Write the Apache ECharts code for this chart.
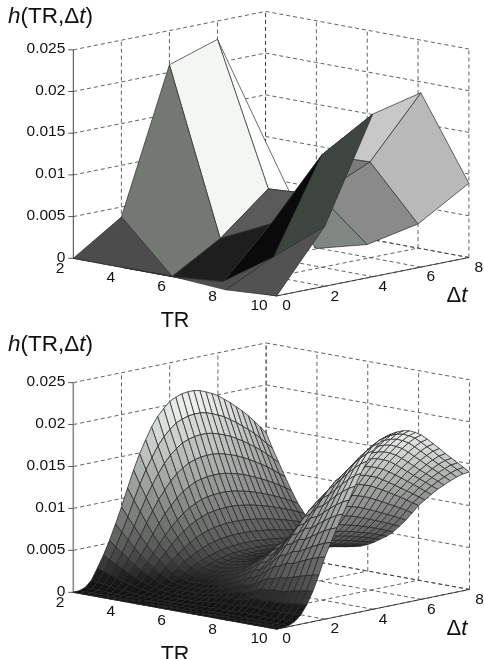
<!DOCTYPE html>
<html><head><meta charset="utf-8">
<style>html,body{margin:0;padding:0;background:#fff}#c{width:484px;height:659px}</style>
<script src="https://cdn.jsdelivr.net/npm/echarts@6/dist/echarts.min.js"></script>
</head><body><div id="c"></div>
<script>
// ---------- tick labels ----------
const trTicks = [2, 4, 6, 8, 10];
const dtTicks = [0, 2, 4, 6, 8];
const hTicks = [0, 0.005, 0.01, 0.015, 0.02, 0.025];
const hTickLabels = ['0', '0.005', '0.01', '0.015', '0.02', '0.025'];

// ---------- upper surface: h at TR = 2,4,6,8,10 (rows) and dt = 0,2,4,6,8 (columns) ----------
const coarseH = [
  [0, 0.0038, 0.0209, 0.0228, 0.0094],
  [0, -0.0022, 0.0012, 0.0060, -0.0023],
  [0, -0.0017, 0.0041, 0.0064, -0.0007],
  [-0.0004, 0.0024, 0.0135, 0.0115, 0.0029],
  [0, 0.0072, 0.0195, 0.0209, 0.0089]
];
// grey level of every flat facet (style, same layout as the cells of coarseH)
const coarseFaceColors = [
  ['#4c4c4c', '#737872', '#f2f7f2', '#ffffff'],
  ['#4a4a4a', '#1e1e1e', '#5a5a5a', '#808680'],
  ['#505050', '#0a0a0a', '#777d77', '#8a8a8a'],
  ['#525252', '#3e443e', '#c8c8c8', '#b9b9b9']
];

// ---------- lower surface: h x 1e5, TR = 2..10 step .25 (rows), dt = 0..8 step .25 (columns) ----------
const fineTR = [2,2.25,2.5,2.75,3,3.25,3.5,3.75,4,4.25,4.5,4.75,5,5.25,5.5,5.75,6,6.25,6.5,6.75,7,7.25,7.5,7.75,8,8.25,8.5,8.75,9,9.25,9.5,9.75,10];
const fineDt = [0,.25,.5,.75,1,1.25,1.5,1.75,2,2.25,2.5,2.75,3,3.25,3.5,3.75,4,4.25,4.5,4.75,5,5.25,5.5,5.75,6,6.25,6.5,6.75,7,7.25,7.5,7.75,8];
const fineH = [
[0,5,30,100,230,370,530,710,900,1110,1310,1490,1640,1780,1890,1970,2040,2075,2100,2110,2110,2095,2065,2030,1990,1935,1880,1815,1750,1680,1600,1515,1430],
[0,4,26,88,202,326,466,625,792,977,1153,1311,1443,1566,1663,1734,1795,1826,1848,1857,1857,1844,1817,1786,1751,1703,1654,1597,1540,1478,1408,1333,1258],
[0,4,23,77,177,285,408,547,693,855,1009,1147,1263,1371,1455,1517,1571,1598,1617,1625,1625,1613,1590,1563,1532,1490,1448,1398,1348,1294,1232,1167,1101],
[0,3,20,66,152,244,350,469,594,733,865,983,1082,1175,1247,1300,1346,1370,1386,1393,1393,1383,1363,1340,1313,1277,1241,1198,1155,1109,1056,1000,944],
[0,3,17,56,128,205,294,394,500,616,727,827,910,988,1049,1093,1132,1152,1166,1171,1171,1163,1146,1127,1104,1074,1043,1007,971,932,888,841,794],
[0,2,14,46,106,170,244,327,414,511,603,685,754,819,869,906,938,955,966,971,971,964,950,934,915,890,865,835,805,773,736,697,658],
[0,2,12,39,89,142,204,273,347,427,504,574,631,685,728,758,785,799,809,812,812,807,795,782,766,745,724,699,674,647,616,583,551],
[0,2,9,31,71,115,164,220,279,344,406,462,508,552,586,611,632,643,651,654,654,649,640,629,617,600,583,563,543,521,496,470,443],
[0,1,8,25,58,93,133,178,225,278,328,373,410,445,473,493,510,519,525,528,528,524,516,508,498,484,470,454,438,420,400,379,358],
[0,1,6,21,47,76,109,146,185,228,269,305,336,365,387,404,418,425,431,433,433,429,423,416,408,397,385,372,359,344,328,311,293],
[0,1,5,18,41,67,95,128,162,200,236,268,295,320,340,355,367,374,378,380,380,377,372,365,358,348,338,327,315,302,288,273,257],
[0,1,5,17,39,63,90,121,153,189,223,253,279,303,321,335,347,353,357,359,359,356,351,345,338,329,320,309,298,286,272,258,243],
[0,1,5,17,39,63,90,121,153,189,223,253,279,303,321,335,347,353,357,359,359,356,351,345,338,329,320,309,298,286,272,258,243],
[0,1,5,18,40,65,93,124,158,194,229,261,287,312,331,345,357,363,368,369,369,367,361,355,348,339,329,318,306,294,280,265,250],
[0,1,6,19,43,68,98,131,167,205,242,276,303,329,350,364,377,384,389,390,390,388,382,376,368,358,348,336,324,311,296,280,265],
[0,1,6,20,46,74,106,142,180,222,262,298,328,356,378,394,408,415,420,422,422,419,413,406,398,387,376,363,350,336,320,303,286],
[0,1,7,22,51,81,117,156,198,244,288,328,361,392,416,433,449,457,462,464,464,461,454,447,438,426,414,399,385,370,352,333,315],
[0,1,8,25,58,93,133,178,225,278,328,373,410,445,473,493,510,519,525,528,528,524,516,508,498,484,470,454,438,420,400,379,358],
[0,1,9,29,66,105,151,202,257,316,373,425,467,507,539,561,581,591,599,601,601,597,589,579,567,551,536,517,499,479,456,432,408],
[0,2,10,32,74,118,170,227,288,355,419,477,525,570,605,630,653,664,672,675,675,670,661,650,637,619,602,581,560,538,512,485,458],
[0,2,11,36,84,135,193,259,329,405,478,544,599,650,690,719,745,757,767,770,770,765,754,741,726,706,686,662,639,613,584,553,522],
[0,2,9,31,72,124,189,266,349,428,505,575,639,701,754,799,837,861,878,886,888,885,875,861,843,817,790,761,731,701,669,636,604],
[0,2,10,35,83,142,216,304,399,489,577,657,730,801,862,913,957,984,1004,1012,1015,1011,1000,984,963,934,903,870,836,802,765,727,690],
[0,2,12,40,95,163,248,349,458,560,661,753,837,918,988,1047,1097,1128,1150,1160,1163,1159,1146,1127,1103,1070,1035,997,958,919,877,833,790],
[0,2,13,45,107,184,279,393,516,632,745,849,943,1035,1114,1180,1236,1272,1296,1308,1311,1306,1292,1270,1244,1206,1166,1123,1079,1035,988,939,891],
[0,2,11,41,96,175,277,402,539,657,775,883,986,1085,1179,1262,1330,1376,1409,1424,1429,1428,1413,1389,1359,1316,1270,1222,1172,1123,1074,1023,972],
[0,2,12,44,104,189,300,434,583,710,838,955,1067,1173,1275,1365,1439,1488,1524,1540,1545,1545,1529,1502,1469,1423,1373,1322,1268,1214,1161,1106,1051],
[0,2,9,36,88,173,289,434,595,724,853,973,1094,1214,1327,1431,1519,1580,1624,1644,1653,1653,1640,1612,1576,1524,1467,1411,1351,1295,1239,1182,1126],
[0,2,10,38,93,183,306,460,629,766,902,1029,1157,1285,1403,1514,1607,1671,1718,1739,1748,1748,1735,1705,1667,1612,1552,1492,1429,1370,1310,1250,1190],
[0,2,10,40,98,193,323,485,664,807,951,1085,1220,1355,1480,1596,1695,1763,1811,1834,1844,1844,1830,1798,1758,1700,1636,1574,1507,1444,1382,1318,1255],
[0,2,11,42,103,202,338,507,694,844,995,1135,1276,1417,1548,1670,1773,1844,1895,1918,1928,1928,1914,1881,1839,1778,1712,1646,1576,1511,1445,1379,1313],
[0,2,11,43,107,210,351,526,721,877,1033,1178,1325,1471,1607,1734,1841,1915,1967,1992,2002,2002,1987,1953,1910,1847,1778,1710,1637,1569,1501,1432,1364],
[0,2,12,45,110,215,360,540,740,900,1060,1210,1360,1510,1650,1780,1890,1965,2020,2045,2055,2055,2040,2005,1960,1895,1825,1755,1680,1610,1540,1470,1400]
];
const fineScale = 1e-5;

// ---------- view of each panel: oblique projection from (TR, dt, h) to the page scale ----------
const upperView = {ox: 73.3, oy: 258.3, trX: 25.42, trY: 4.7, dtX: 24.03, dtY: 4.8, hY: 8340,
  axisColor: '#444', axisWidth: 1, titleY: 17};
const lowerView = {ox: 73.3, oy: 592.3, trX: 25.42, trY: 4.6, dtX: 24.1, dtY: 4.96, hY: 8387,
  axisColor: '#8a8a8a', axisWidth: 1.6, titleY: 345};
function project(v, tr, dt, h) {
  return [v.ox + (tr - 2) * v.trX + dt * v.dtX, v.oy + (tr - 2) * v.trY - dt * v.dtY - h * v.hY];
}

// colour ramp of the smooth surface
const rampStops = [[0, [16,16,16]], [0.0015, [26,26,26]], [0.003, [60,60,60]], [0.005, [90,92,90]], [0.01, [143,146,143]],
                   [0.015, [192,196,192]], [0.02, [236,240,236]], [0.0215, [244,248,244]]];
function ramp(h) {
  for (let i = 1; i < rampStops.length; i++) {
    if (h <= rampStops[i][0]) {
      const a = rampStops[i-1], b = rampStops[i];
      const t = Math.max(0, (h - a[0]) / (b[0] - a[0]));
      return 'rgb(' + a[1].map((c, k) => Math.round(c + (b[1][k] - c) * t)).join(',') + ')';
    }
  }
  return 'rgb(244,248,244)';
}

const hMax = hTicks[hTicks.length - 1];
const trA = trTicks[0], trB = trTicks[trTicks.length - 1], dtA = dtTicks[0], dtB = dtTicks[dtTicks.length - 1];

function dashedSegments() {
  const s = [];
  trTicks.forEach(t => { s.push([t, dtA, 0, t, dtB, 0]); s.push([t, dtB, 0, t, dtB, hMax]); });
  dtTicks.forEach(d => { s.push([trA, d, 0, trB, d, 0]); if (d > dtA) s.push([trA, d, 0, trA, d, hMax]); });
  hTicks.forEach(h => { s.push([trA, dtA, h, trA, dtB, h]); s.push([trA, dtB, h, trB, dtB, h]); });
  return s;
}
function frameSeries(v) {
  return {
    type: 'custom', coordinateSystem: 'cartesian2d', silent: true, animation: false, z: 1,
    data: dashedSegments(),
    renderItem: (p, api) => {
      const a = api.coord(project(v, api.value(0), api.value(1), api.value(2)));
      const b = api.coord(project(v, api.value(3), api.value(4), api.value(5)));
      return {type: 'line', silent: true, shape: {x1: a[0], y1: a[1], x2: b[0], y2: b[1]},
              style: {stroke: '#3a3a3a', lineWidth: 0.8, lineDash: [4, 3], fill: null}};
    }
  };
}
function axisSeries(v) {
  const segs = [[trA, dtA, 0, trA, dtA, hMax], [trA, dtA, 0, trB, dtA, 0], [trB, dtA, 0, trB, dtB, 0]];
  return {
    type: 'custom', coordinateSystem: 'cartesian2d', silent: true, animation: false, z: 2,
    data: segs,
    renderItem: (p, api) => {
      const vertical = p.dataIndex === 0;
      const a = api.coord(project(v, api.value(0), api.value(1), api.value(2)));
      const b = api.coord(project(v, api.value(3), api.value(4), api.value(5)));
      return {type: 'line', silent: true, shape: {x1: a[0], y1: a[1], x2: b[0], y2: b[1]},
              style: {stroke: vertical ? v.axisColor : '#333', lineWidth: vertical ? v.axisWidth : 0.9, fill: null}};
    }
  };
}
function hTickSeries(v) {
  return {
    type: 'custom', coordinateSystem: 'cartesian2d', silent: true, animation: false, z: 2,
    data: hTicks.map(h => [h]),
    renderItem: (p, api) => {
      const a = api.coord(project(v, trA, dtA, api.value(0)));
      return {type: 'line', silent: true, shape: {x1: a[0] - 5, y1: a[1], x2: a[0], y2: a[1]},
              style: {stroke: '#444', lineWidth: 0.9, fill: null}};
    }
  };
}
function quadCells(trs, dts) {
  const cells = [];
  for (let i = 0; i < trs.length - 1; i++) for (let j = 0; j < dts.length - 1; j++) {
    cells.push({i, j, depth: trs[i] * 14.1 - dts[j] * 14.4});
  }
  cells.sort((a, b) => a.depth - b.depth);
  return cells.map(c => [c.i, c.j]);
}
function surfaceSeries(v, trs, dts, heights, scale, colorOf, edge, edgeWidth) {
  return {
    type: 'custom', coordinateSystem: 'cartesian2d', silent: true, animation: false, z: 3,
    progressive: 0, data: quadCells(trs, dts),
    renderItem: (p, api) => {
      const i = api.value(0), j = api.value(1);
      const corners = [[i, j], [i + 1, j], [i + 1, j + 1], [i, j + 1]];
      const pts = corners.map(c => api.coord(project(v, trs[c[0]], dts[c[1]], heights[c[0]][c[1]] * scale)));
      return {type: 'polygon', silent: true, shape: {points: pts},
              style: {fill: colorOf(i, j), stroke: edge, lineWidth: edgeWidth, lineJoin: 'round'}};
    }
  };
}
const font = '"Liberation Sans", Arial, sans-serif';
function textSeries(v) {
  const items = [];
  hTicks.forEach((h, k) => {
    const a = project(v, trA, dtA, h);
    items.push({text: hTickLabels[k], x: a[0] - 8, y: a[1] - 1, align: 'right', size: 15.5});
  });
  trTicks.forEach(t => {
    const a = project(v, t, dtA, 0);
    items.push({text: String(t), x: a[0] - 9, y: a[1] + 10, align: 'right', size: 15.5});
  });
  dtTicks.forEach(d => {
    const a = project(v, trB, d, 0);
    items.push({text: String(d), x: a[0] + 10, y: a[1] + 10, align: 'center', size: 15.5});
  });
  items.push({text: 'TR', x: 175, y: project(v, trB, dtA, 0)[1] + 25.5, align: 'center', size: 21.5});
  items.push({text: '{n|Δ}{i|t}', x: 457, y: project(v, trB, dtA, 0)[1] + 0, align: 'center', size: 22, rich: true});
  items.push({text: '{i|h}{n|(TR,Δ}{i|t}{n|)}', x: 8, y: v.titleY, align: 'left', size: 22.5, rich: true});
  return {
    type: 'custom', coordinateSystem: 'cartesian2d', silent: true, animation: false, z: 5,
    data: items.map((it, idx) => [idx]),
    renderItem: (p, api) => {
      const it = items[api.value(0)];
      const c = api.coord([it.x, it.y]);
      const style = {x: c[0], y: c[1], text: it.text, fill: '#111', align: it.align, verticalAlign: 'middle',
                     font: it.size + 'px ' + font};
      if (it.rich) style.rich = {
        n: {font: it.size + 'px ' + font, fill: '#111'},
        i: {font: 'italic ' + it.size + 'px ' + font, fill: '#111'}
      };
      return {type: 'text', silent: true, style};
    }
  };
}

const chart = echarts.init(document.getElementById('c'), null, {width: 484, height: 659});
const coarseTR = trTicks, coarseDt = dtTicks;
chart.setOption({
  animation: false,
  backgroundColor: '#fff',
  grid: {left: 0, right: 0, top: 0, bottom: 0},
  xAxis: {type: 'value', min: 0, max: 484, show: false},
  yAxis: {type: 'value', min: 0, max: 659, inverse: true, show: false},
  series: [
    frameSeries(upperView), axisSeries(upperView), hTickSeries(upperView),
    surfaceSeries(upperView, coarseTR, coarseDt, coarseH, 1, (i, j) => coarseFaceColors[i][j], '#2c2c2c', 0.7),
    textSeries(upperView),
    frameSeries(lowerView), axisSeries(lowerView), hTickSeries(lowerView),
    surfaceSeries(lowerView, fineTR, fineDt, fineH, fineScale, (i, j) =>
      ramp((fineH[i][j] + fineH[i+1][j] + fineH[i][j+1] + fineH[i+1][j+1]) / 4 * fineScale), '#262626', 0.75),
    textSeries(lowerView)
  ]
});
</script></body></html>
